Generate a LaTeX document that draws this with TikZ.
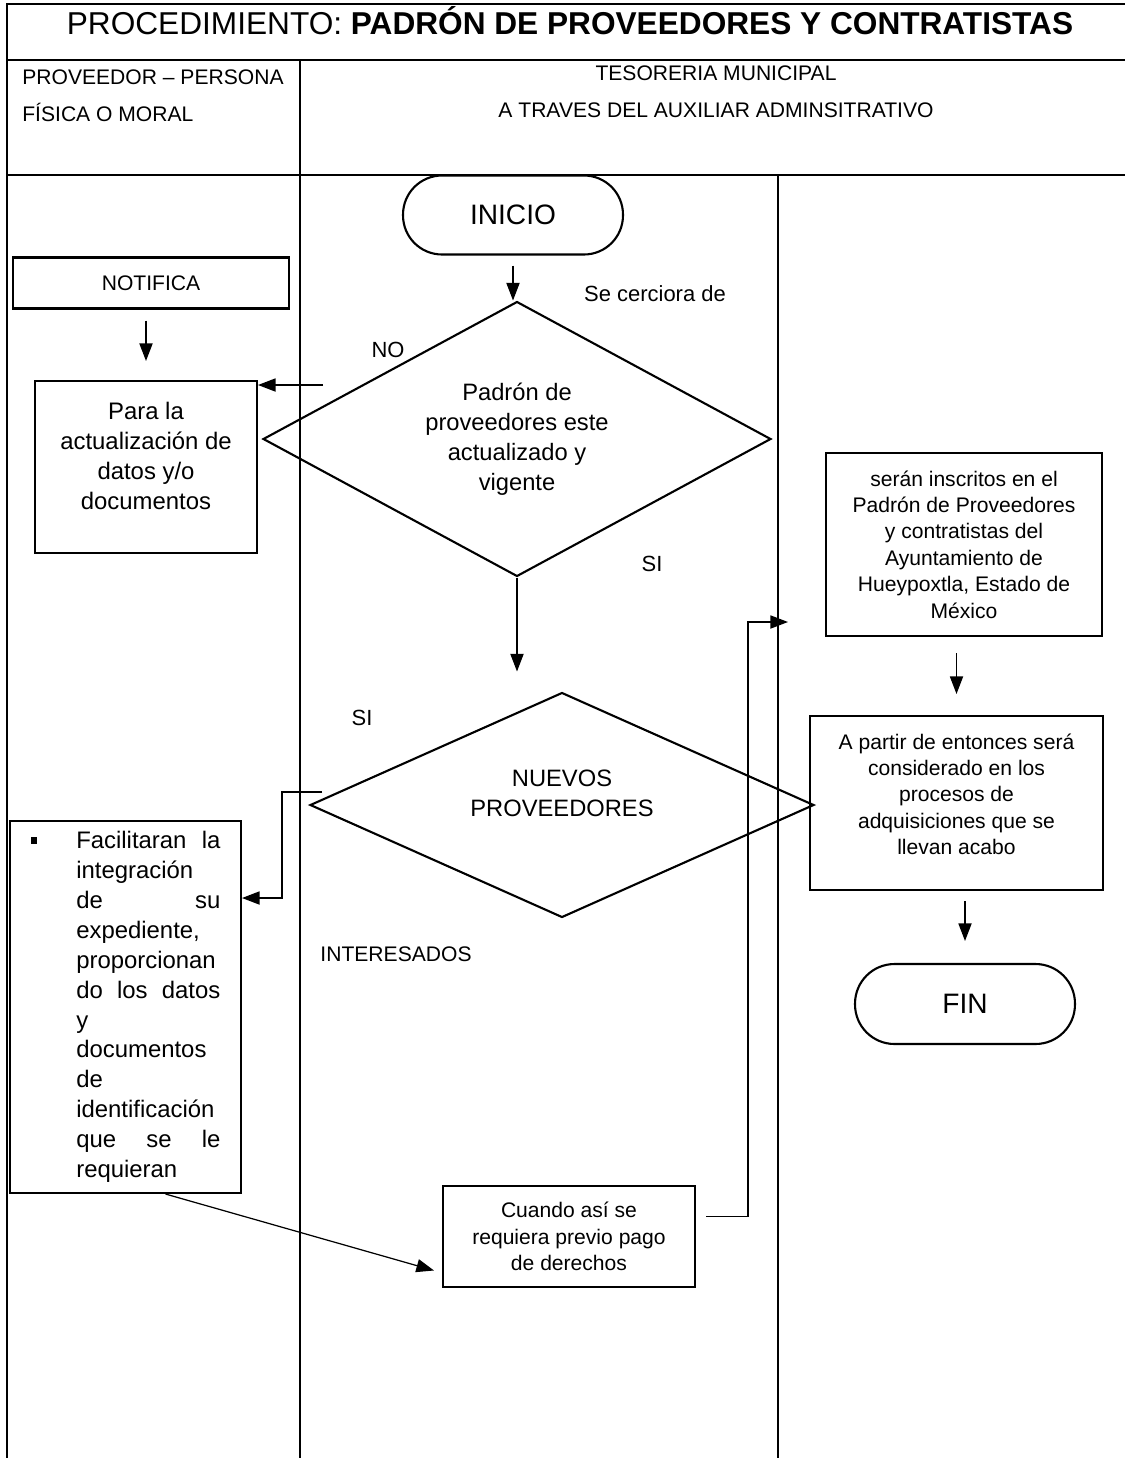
\documentclass[tikz,border=0pt]{standalone}
\usepackage{fontspec}
\setmainfont{Liberation Sans}
\usetikzlibrary{positioning, arrows.meta, shapes.geometric, calc}

\begin{document}
\begin{tikzpicture}[x=0.02cm, y=-0.02cm,
  frame/.style={line width=0.8pt},
  box/.style={draw, rectangle, line width=1.2pt, inner sep=0pt, align=center, font=\fontsize{12}{15}\selectfont},
  term/.style={draw, rectangle, rounded corners=0.78cm, line width=1.2pt, minimum width=4.4cm, minimum height=1.58cm, font=\fontsize{16}{19}\selectfont},
  decision/.style={draw, diamond, aspect=2, line width=1.2pt, inner sep=0pt, align=center, font=\fontsize{13.5}{17}\selectfont},
  lbl/.style={inner sep=0pt, font=\fontsize{12.5}{15}\selectfont},
  conn/.style={line width=0.7pt, -{Triangle[length=10pt, width=7.5pt]}}]
  \useasboundingbox (0,0) rectangle (1125,1458);

  % Frame and lanes
  \draw[frame] (1125,4) -- (7,4) -- (7,1458);
  \draw[frame] (7,60) -- (1125,60);
  \draw[frame] (7,175) -- (1125,175);
  \draw[frame] (300,60) -- (300,1458);
  \draw[frame] (778,175) -- (778,1458);

  % Header
  \node (titulo) [inner sep=0pt, font=\fontsize{18}{22}\selectfont] at (570, 21) {PROCEDIMIENTO: \textbf{PADRÓN DE PROVEEDORES Y CONTRATISTAS}};
  \node (hdrprov) [inner sep=0pt, anchor=west, align=left, font=\fontsize{12}{21}\selectfont] at (22, 95.5) {PROVEEDOR – PERSONA\\FÍSICA O MORAL};
  \node (hdrteso) [inner sep=0pt, align=center, font=\fontsize{12}{21}\selectfont] at (716, 91.5) {TESORERIA MUNICIPAL\\A TRAVES DEL AUXILIAR ADMINSITRATIVO};

  % Tesoreria lane
  \node (inicio) [term] at (513, 215) {INICIO};
  \node (padron) [decision, minimum width=10.16cm, minimum height=5.5cm] at (517, 439) {Padrón de\\proveedores este\\actualizado y\\vigente};
  \node (nuevos) [decision, minimum width=10.08cm, minimum height=4.5cm] at (562, 805) {NUEVOS\\PROVEEDORES\\[-3.4pt]\mbox{}};
  \node (cuando) [box, minimum width=5.04cm, minimum height=2.02cm] at (569, 1236.5) {Cuando así se\\requiera previo pago\\de derechos};

  \node (cerciora) [lbl] at (655, 294) {Se cerciora de};
  \node (lblno) [lbl] at (388, 350) {NO};
  \node (lblsia) [lbl] at (652, 564) {SI};
  \node (lblsib) [lbl] at (362, 718) {SI};
  \node (interesados) [lbl, font=\fontsize{12}{15}\selectfont] at (396, 954) {INTERESADOS};

  % Proveedor lane
  \node (notifica) [box, minimum width=5.52cm, minimum height=1.02cm] at (151, 283) {NOTIFICA};
  \node (actualiza) [box, minimum width=4.44cm, minimum height=3.44cm, font=\fontsize{13.6}{17}\selectfont] at (146, 467) {Para la\\actualización de\\datos y/o\\documentos\\[-4.5pt]\mbox{}};
  \node (facilita) [box, minimum width=4.62cm, minimum height=7.44cm, font=\fontsize{13.6}{17}\selectfont] at (125.5, 1007) {\makebox[26pt][l]{\rule[3pt]{3.5pt}{3.5pt}}\parbox[t]{82pt}{Facilitaran\hfill la\\ integración\\ de\hfill su\\ expediente,\\ proporcionan\\ do\hfill los\hfill datos\\ y\\ documentos\\ de\\ identificación\\ que\hfill se\hfill le\\ requieran}};

  % Third lane
  \node (inscritos) [box, minimum width=5.52cm, minimum height=3.66cm] at (964, 544.5) {serán inscritos en el\\Padrón de Proveedores\\y contratistas del\\Ayuntamiento de\\Hueypoxtla, Estado de\\México};
  \node (apartir) [box, minimum width=5.86cm, minimum height=3.48cm] at (956.5, 803) {A partir de entonces será\\considerado en los\\procesos de\\adquisiciones que se\\llevan acabo\\[-4.8pt]\mbox{}};
  \node (fin) [term, minimum width=4.4cm, minimum height=1.6cm, rounded corners=0.79cm] at (965, 1004) {FIN};

  % Connectors
  \coordinate (nofrom) at (323, 385);
  \coordinate (sifrom) at (322, 792);
  \draw[conn, shorten <=0.2cm] (inicio.south) -- (inicio.south |- padron.north);
  \draw[conn, shorten <=0.22cm, shorten >=0.38cm] (notifica.south -| actualiza.north) -- (actualiza.north);
  \draw[conn] (nofrom) -- (nofrom -| actualiza.east);
  \draw[conn, shorten >=0.4cm] (padron.south) -- (padron.south |- nuevos.north);
  \draw[conn] (sifrom) -- ++(-40,0) |- ($(facilita.east)+(0,-109)$);
  \draw[conn] ($(facilita.south)+(40,0)$) -- ($(cuando.west)+(-8,34)$);
  \draw[conn] ($(cuando.east)+(10,-20)$) -- ++(42,0) |- ($(inscritos.west)+(-37,77.5)$);
  \draw[conn, shorten <=0.32cm, shorten >=0.42cm] (inscritos.south -| apartir.north) -- (apartir.north);
  \draw[conn, shorten <=0.2cm, shorten >=0.44cm] (apartir.south -| fin.north) -- (fin.north);
\end{tikzpicture}
\end{document}
